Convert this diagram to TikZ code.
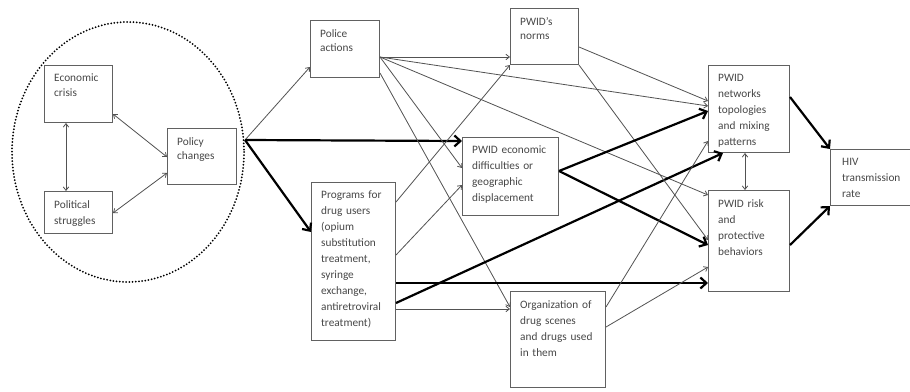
\documentclass[tikz,border=0pt]{standalone}
\usepackage{fontspec}
\setmainfont{Carlito}
\usetikzlibrary{arrows.meta}
\begin{document}
\begin{tikzpicture}[x=1pt,y=-1pt,
 box/.style={draw=black!62, line width=1pt, anchor=north west, inner sep=0pt},
 lbl/.style={anchor=north west, inner sep=0pt, align=left, text width=100pt, text=black!72, xshift=10pt, yshift=-9pt, font=\fontsize{11.3}{16}\selectfont},
 lbls/.style={lbl, font=\fontsize{11.3}{14.5}\selectfont},
 weak/.style={draw=black!68, line width=0.8pt, -{Straight Barb[length=3.5pt,width=5.5pt]}},
 weakb/.style={weak, {Straight Barb[length=3.5pt,width=5.5pt]}-{Straight Barb[length=3.5pt,width=5.5pt]}},
 strong/.style={draw=black, line width=2.2pt, -{Straight Barb[length=6pt,width=11pt]}},
 zone/.style={draw=black, line width=2pt, line cap=round, dash pattern=on 0pt off 3.2pt},
]
\useasboundingbox (0,0) rectangle (910,391);
\fill[white] (0,0) rectangle (910,391);

% dotted zone
\draw[zone] (128,152) ellipse [x radius=116, y radius=130];
\coordinate (E) at (245,140);

% boxes
\node[box, minimum width=68pt, minimum height=57pt, label={[lbls]north west:{Economic\\crisis}}] (crisis) at (44,65) {};
\node[box, minimum width=68pt, minimum height=42pt, label={[lbl]north west:{Political\\struggles}}] (political) at (44,191) {};
\node[box, minimum width=69pt, minimum height=56pt, label={[lbls]north west:{Policy\\changes}}] (policy) at (167,128) {};
\node[box, minimum width=69pt, minimum height=57pt, label={[lbls]north west:{Police\\actions}}] (police) at (310,20) {};
\node[box, minimum width=68pt, minimum height=56pt, label={[lbls]north west:{PWID's\\norms}}] (norms) at (510,8) {};
\node[box, minimum width=96pt, minimum height=78pt, label={[lbl]north west:{PWID economic\\difficulties or\\geographic\\displacement}}] (econ) at (462,137) {};
\node[box, minimum width=84pt, minimum height=158pt, label={[lbl]north west:{Programs for\\drug users\\(opium\\substitution\\treatment,\\syringe\\exchange,\\antiretroviral\\treatment)}}] (programs) at (311,182) {};
\node[box, minimum width=95pt, minimum height=96pt, label={[lbl]north west:{Organization of\\drug scenes\\and drugs used\\in them}}] (org) at (510,291) {};
\node[box, minimum width=81pt, minimum height=87pt, label={[lbl]north west:{PWID\\networks\\topologies\\and mixing\\patterns}}] (networks) at (708,65) {};
\node[box, minimum width=81pt, minimum height=101pt, label={[lbl]north west:{PWID risk\\and\\protective\\behaviors}}] (risk) at (708,190) {};
\node[box, minimum width=95pt, minimum height=56pt, label={[lbl, xshift=2pt]north west:{HIV\\transmission\\rate}}] (hiv) at (830,149) {};

% left cluster
\draw[weakb] ([xshift=22pt]crisis.south west) -- ([xshift=22pt]political.north west);
\draw[weakb] ([yshift=9pt]crisis.south east) -- ([yshift=28pt]policy.south west);
\draw[weakb] ([yshift=21pt]political.south east) -- ([yshift=12pt]policy.south west);

% from policy zone
\draw[weak] (E) -- ([yshift=11pt]police.south west);
\draw[strong] (E) -- ([yshift=-4pt]econ.north west);
\draw[strong] (E) -- ([yshift=-50pt]programs.north west);

% police actions
\coordinate (P1) at ([yshift=-37pt]police.north east);
\draw[weak] (P1) -- ([yshift=-49pt]norms.north west);
\draw[weak] (P1) -- ([yshift=-41pt]networks.north west);
\draw[weak] (P1) -- ([yshift=-5pt]risk.north west);
\draw[weak] (P1) -- ([yshift=-31pt]econ.north west);
\draw[weak] ([yshift=5pt]police.south east) -- ([yshift=-16pt]org.north west);

% programs
\draw[weak] ([yshift=-20pt]programs.north east) -- (norms.south west);
\draw[weak] ([yshift=-73pt]programs.north east) -- ([yshift=-48pt]econ.north west);
\draw[strong] ([yshift=-101pt]programs.north east) -- ([yshift=-93pt]risk.north west);
\draw[strong] ([yshift=-121pt]programs.north east) -- ([xshift=15pt]networks.south west);
\draw[weak] ([yshift=-127pt]programs.north east) -- ([yshift=-18pt]org.north west);

% norms
\draw[weak] ([yshift=-39pt]norms.north east) -- ([yshift=-36pt]networks.north west);
\draw[weak] (norms.south east) -- ([yshift=-50pt]risk.north west);

% economic difficulties
\draw[strong] ([yshift=-34pt]econ.north east) -- ([yshift=-46pt]networks.north west);
\draw[strong] ([yshift=-34pt]econ.north east) -- ([yshift=-55pt]risk.north west);

% organization
\draw[weak] ([yshift=-16pt]org.north east) -- ([yshift=12pt]networks.south west);
\draw[weak] ([yshift=-36pt]org.north east) -- ([yshift=-77pt]risk.north west);

% right
\draw[weakb] ([xshift=37pt]networks.south west) -- ([xshift=37pt]risk.north west);
\draw[strong] ([yshift=-32pt]networks.north east) -- (hiv.north west);
\draw[strong] ([yshift=-55pt]risk.north east) -- (hiv.south west);
\end{tikzpicture}
\end{document}
